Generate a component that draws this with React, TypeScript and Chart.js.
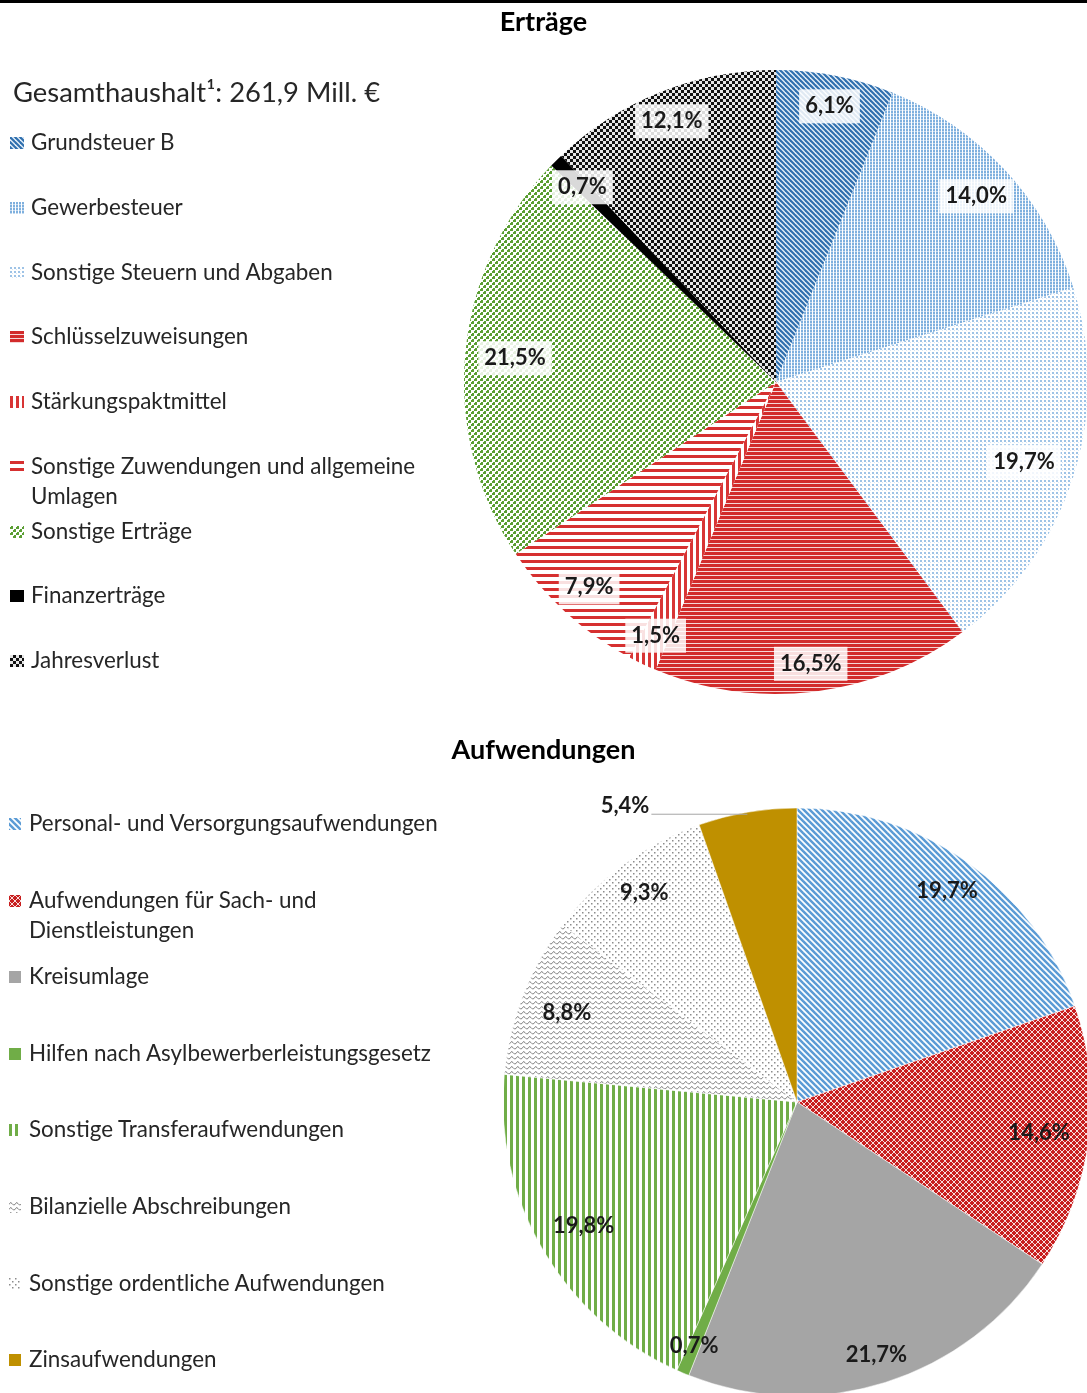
import React, { useEffect, useRef } from "react";
import { Chart, registerables } from "chart.js";

Chart.register(...registerables);

// ---------- DATA ----------
const incomeTitle = "Erträge";
const incomeHeader = "Gesamthaushalt¹: 261,9 Mill. €";
const incomeCategories = [
  "Grundsteuer B",
  "Gewerbesteuer",
  "Sonstige Steuern und Abgaben",
  "Schlüsselzuweisungen",
  "Stärkungspaktmittel",
  "Sonstige Zuwendungen und allgemeine Umlagen",
  "Sonstige Erträge",
  "Finanzerträge",
  "Jahresverlust",
];
const incomeValues = [6.1, 14.0, 19.7, 16.5, 1.5, 7.9, 21.5, 0.7, 12.1];

const expenseTitle = "Aufwendungen";
const expenseCategories = [
  "Personal- und Versorgungsaufwendungen",
  "Aufwendungen für Sach- und Dienstleistungen",
  "Kreisumlage",
  "Hilfen nach Asylbewerberleistungsgesetz",
  "Sonstige Transferaufwendungen",
  "Bilanzielle Abschreibungen",
  "Sonstige ordentliche Aufwendungen",
  "Zinsaufwendungen",
];
const expenseValues = [19.7, 14.6, 21.7, 0.7, 19.8, 8.8, 9.3, 5.4];

// ---------- STYLES ----------
const incomeFills = [
  "blueDiagDark",
  "blueDotsDense",
  "blueDotsSparse",
  "redHDense",
  "redV",
  "redHWide",
  "greenDots",
  "black",
  "checker",
];
const expenseFills = [
  "blueDiagLight",
  "redLattice",
  "gray",
  "green",
  "greenV",
  "grayWave",
  "grayDots",
  "gold",
];
const incomeLabelRadius = [0.9, 0.875, 0.835, 0.91, 0.9, 0.89, 0.84, 0.88, 0.9];
const expenseLabelRadius = [0.88, 0.83, 0.9, 0.9, 0.84, 0.84, 0.88, 1];
const expenseCallouts: Record<number, number> = { 7: 96 };

const FONT = "Lato, 'Open Sans', sans-serif";
const TEXT_COLOR = "#262626";

const fmt = (v: number) => v.toFixed(1).replace(".", ",") + "%";

function makeTile(name: string): HTMLCanvasElement | string {
  const c = document.createElement("canvas");
  const setup = (w: number, h: number, bg: string) => {
    c.width = w;
    c.height = h;
    const g = c.getContext("2d")!;
    g.fillStyle = bg;
    g.fillRect(0, 0, w, h);
    return g;
  };
  const diag = (s: number, bg: string, fg: string, lw: number) => {
    const g = setup(s, s, bg);
    g.strokeStyle = fg;
    g.lineWidth = lw;
    for (const k of [-s, 0, s]) {
      g.beginPath();
      g.moveTo(k - 1, -1);
      g.lineTo(k + s + 1, s + 1);
      g.stroke();
    }
    return g;
  };
  switch (name) {
    case "blueDiagDark":
      diag(5, "#e3eef8", "#2f6fae", 2.1);
      return c;
    case "blueDotsDense": {
      const g = setup(3, 3, "#ffffff");
      g.fillStyle = "#7fb0de";
      g.fillRect(0, 0, 2, 2);
      g.fillStyle = "#c3daf0";
      g.fillRect(0, 2, 2, 1);
      return c;
    }
    case "blueDotsSparse": {
      const g = setup(4, 4, "#ffffff");
      g.fillStyle = "#9ec3e6";
      g.fillRect(0, 0, 2, 2);
      g.fillStyle = "#d6e6f5";
      g.fillRect(2, 2, 1, 1);
      return c;
    }
    case "redHDense": {
      const g = setup(4, 4, "#f6d6d6");
      g.fillStyle = "#d22b2b";
      g.fillRect(0, 0, 4, 3);
      return c;
    }
    case "redV": {
      const g = setup(6, 6, "#ffffff");
      g.fillStyle = "#d83535";
      g.fillRect(0, 0, 3, 6);
      return c;
    }
    case "redHWide": {
      const g = setup(6, 7, "#ffffff");
      g.fillStyle = "#d63030";
      g.fillRect(0, 0, 6, 3);
      return c;
    }
    case "greenDots": {
      const g = setup(6, 6, "#ffffff");
      g.fillStyle = "#5a9e32";
      g.fillRect(0, 0, 3, 3);
      g.fillRect(3, 3, 3, 3);
      g.fillStyle = "#ffffff";
      g.fillRect(0, 0, 1, 1);
      g.fillRect(3, 3, 1, 1);
      return c;
    }
    case "checker": {
      const g = setup(6, 6, "#111111");
      g.fillStyle = "#e6e6e6";
      g.fillRect(0, 0, 3, 3);
      g.fillRect(3, 3, 3, 3);
      return c;
    }
    case "blueDiagLight":
      diag(6, "#ffffff", "#5b9bd5", 2.5);
      return c;
    case "redLattice": {
      const g = setup(6, 6, "#c81e1e");
      g.strokeStyle = "rgba(255,255,255,0.85)";
      g.lineWidth = 1;
      for (const k of [-6, 0, 6]) {
        g.beginPath();
        g.moveTo(k - 1, -1);
        g.lineTo(k + 7, 7);
        g.stroke();
        g.beginPath();
        g.moveTo(k + 7, -1);
        g.lineTo(k - 1, 7);
        g.stroke();
      }
      return c;
    }
    case "greenV": {
      const g = setup(6, 6, "#ffffff");
      g.fillStyle = "#70ad47";
      g.fillRect(0, 0, 3, 6);
      return c;
    }
    case "grayWave": {
      const g = setup(6, 5, "#ffffff");
      g.strokeStyle = "#7f7f7f";
      g.lineWidth = 1;
      g.beginPath();
      g.moveTo(0, 3.5);
      g.quadraticCurveTo(1.5, 0, 3, 2.5);
      g.quadraticCurveTo(4.5, 5, 6, 3.5);
      g.stroke();
      return c;
    }
    case "grayDots": {
      const g = setup(6, 6, "#ffffff");
      g.fillStyle = "#8c8c8c";
      g.fillRect(0, 0, 1.5, 1.5);
      g.fillRect(3, 3, 1.5, 1.5);
      return c;
    }
    case "black":
      return "#000000";
    case "gray":
      return "#a5a5a5";
    case "green":
      return "#70ad47";
    case "gold":
      return "#bf9000";
  }
  return "#cccccc";
}

function makeFill(ctx: CanvasRenderingContext2D, name: string): CanvasPattern | string {
  const t = makeTile(name);
  if (typeof t === "string") return t;
  return ctx.createPattern(t, "repeat")!;
}

function labelPlugin(
  texts: string[],
  fracs: number[],
  boxed: boolean,
  callouts: Record<number, number>
) {
  return {
    id: "sliceLabels",
    afterDatasetsDraw(chart: any) {
      const ctx: CanvasRenderingContext2D = chart.ctx;
      const meta = chart.getDatasetMeta(0);
      ctx.save();
      ctx.font = `bold 22px ${FONT}`;
      ctx.textBaseline = "middle";
      meta.data.forEach((arc: any, i: number) => {
        const p = arc.getProps(["x", "y", "startAngle", "endAngle", "outerRadius"], true);
        const mid = (p.startAngle + p.endAngle) / 2;
        const t = texts[i];
        if (callouts[i] != null) {
          const px = p.x + Math.cos(mid) * p.outerRadius;
          const py = p.y + Math.sin(mid) * p.outerRadius;
          ctx.strokeStyle = "#a6a6a6";
          ctx.lineWidth = 1;
          ctx.beginPath();
          ctx.moveTo(px, py + 2);
          ctx.lineTo(px - callouts[i], py + 2);
          ctx.stroke();
          ctx.fillStyle = "#1a1a1a";
          ctx.textAlign = "right";
          ctx.fillText(t, px - callouts[i] - 2, py - 6);
          return;
        }
        const r = p.outerRadius * fracs[i];
        const lx = p.x + Math.cos(mid) * r;
        const ly = p.y + Math.sin(mid) * r;
        ctx.textAlign = "center";
        if (boxed) {
          const w = ctx.measureText(t).width + 12;
          ctx.fillStyle = "rgba(255,255,255,0.85)";
          ctx.fillRect(lx - w / 2, ly - 17, w, 34);
        }
        ctx.fillStyle = "#1a1a1a";
        ctx.fillText(t, lx, ly);
      });
      ctx.restore();
    },
  };
}

function PieCanvas(props: {
  width: number;
  height: number;
  top: number;
  values: number[];
  labels: string[];
  fills: string[];
  padding: { left: number; right: number; top: number; bottom: number };
  radius: number;
  fracs: number[];
  boxed: boolean;
  callouts: Record<number, number>;
  borderWidth: number;
}) {
  const ref = useRef<HTMLCanvasElement>(null);
  useEffect(() => {
    const canvas = ref.current!;
    const ctx = canvas.getContext("2d")!;
    const bg = props.fills.map((f) => makeFill(ctx, f));
    const chart = new Chart(canvas, {
      type: "pie",
      data: {
        labels: props.labels,
        datasets: [
          {
            data: props.values,
            backgroundColor: bg as any,
            borderWidth: props.borderWidth,
            borderColor: "#ffffff",
          },
        ],
      },
      options: {
        responsive: false,
        animation: false,
        devicePixelRatio: 1,
        radius: props.radius,
        layout: { padding: props.padding },
        plugins: { legend: { display: false }, tooltip: { enabled: false } },
      } as any,
      plugins: [labelPlugin(props.values.map(fmt), props.fracs, props.boxed, props.callouts)],
    });
    return () => chart.destroy();
  }, []);
  return (
    <canvas
      ref={ref}
      width={props.width}
      height={props.height}
      style={{ position: "absolute", left: 0, top: props.top, width: props.width, height: props.height }}
    />
  );
}

function Swatch(props: { fill: string; w: number; h: number }) {
  const ref = useRef<HTMLCanvasElement>(null);
  useEffect(() => {
    const ctx = ref.current!.getContext("2d")!;
    ctx.fillStyle = makeFill(ctx, props.fill) as any;
    ctx.fillRect(0, 0, props.w, props.h);
  }, []);
  return <canvas ref={ref} width={props.w} height={props.h} style={{ display: "block" }} />;
}

function Legend(props: {
  items: string[];
  fills: string[];
  left: number;
  top: number;
  rowH: number;
  swW: number;
  swH: number;
  textLeft: number;
  width: number;
}) {
  return (
    <div style={{ position: "absolute", left: props.left, top: props.top, width: props.width }}>
      {props.items.map((it, i) => (
        <div key={i} style={{ position: "relative", height: props.rowH }}>
          <div style={{ position: "absolute", left: 0, top: 15 - props.swH / 2 + 1 }}>
            <Swatch fill={props.fills[i]} w={props.swW} h={props.swH} />
          </div>
          <div
            style={{
              position: "absolute",
              left: props.textLeft,
              top: 0,
              width: props.width - props.textLeft,
              fontSize: 22.4,
              lineHeight: "30px",
              color: TEXT_COLOR,
              whiteSpace: "normal",
            }}
          >
            {it}
          </div>
        </div>
      ))}
    </div>
  );
}

export default function App() {
  useEffect(() => {
    document.body.style.margin = "0";
  }, []);
  const titleStyle: React.CSSProperties = {
    position: "absolute",
    left: 0,
    width: 1087,
    textAlign: "center",
    fontSize: 27,
    fontWeight: "bold",
    lineHeight: "30px",
    color: "#000",
  };
  return (
    <div
      style={{
        position: "absolute",
        left: 0,
        top: 0,
        width: 1087,
        height: 1393,
        overflow: "hidden",
        background: "#ffffff",
        fontFamily: FONT,
      }}
    >
      <PieCanvas
        width={1087}
        height={720}
        top={0}
        values={incomeValues}
        labels={incomeCategories}
        fills={incomeFills}
        padding={{ left: 465, right: 0, top: 70, bottom: 26 }}
        radius={312}
        fracs={incomeLabelRadius}
        boxed={true}
        callouts={{}}
        borderWidth={0}
      />
      <PieCanvas
        width={1100}
        height={680}
        top={720}
        values={expenseValues}
        labels={expenseCategories}
        fills={expenseFills}
        padding={{ left: 503, right: 9, top: 88, bottom: 4 }}
        radius={294}
        fracs={expenseLabelRadius}
        boxed={false}
        callouts={expenseCallouts}
        borderWidth={0.5}
      />
      <div style={{ position: "absolute", left: 0, top: 0, width: 1087, height: 3, background: "#000" }} />
      <div style={{ ...titleStyle, top: 6 }}>{incomeTitle}</div>
      <div
        style={{
          position: "absolute",
          left: 13,
          top: 76,
          fontSize: 27.4,
          lineHeight: "32px",
          color: TEXT_COLOR,
          whiteSpace: "nowrap",
        }}
      >
        {incomeHeader}
      </div>
      <Legend
        items={incomeCategories}
        fills={incomeFills}
        left={10}
        top={127}
        rowH={64.75}
        swW={14}
        swH={12}
        textLeft={21}
        width={430}
      />
      <div style={{ ...titleStyle, top: 734 }}>{expenseTitle}</div>
      <Legend
        items={expenseCategories}
        fills={expenseFills}
        left={9}
        top={808}
        rowH={76.6}
        swW={12}
        swH={12}
        textLeft={20}
        width={450}
      />
    </div>
  );
}
